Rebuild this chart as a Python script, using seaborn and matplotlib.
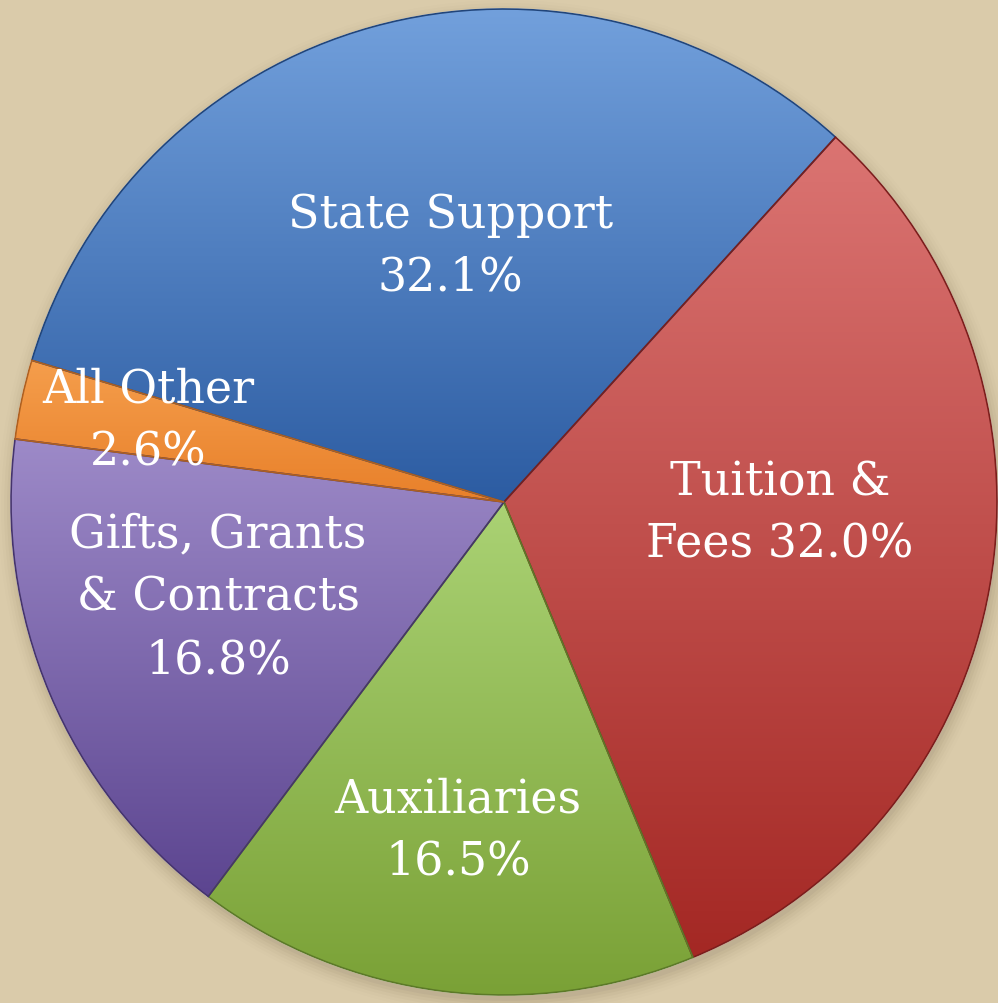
import matplotlib.pyplot as plt
import matplotlib.colors as mcolors
from matplotlib.patches import PathPatch
import numpy as np
import seaborn as sns

# revenue sources, clockwise from the All Other / State Support boundary
categories = ["State Support", "Tuition &\nFees", "Auxiliaries",
              "Gifts, Grants\n& Contracts", "All Other"]
shares = [32.1, 32.0, 16.5, 16.8, 2.6]
label_joins = ["\n", " ", "\n", "\n", "\n"]
top_colors = ["#72a0dc", "#db7472", "#aad274", "#9d8ac8", "#f59e4c"]
bottom_colors = ["#2c5ca2", "#a42824", "#7aa136", "#5c4590", "#e8802a"]
label_pos = [(-0.108, 0.520), (0.560, -0.022), (-0.093, -0.665),
             (-0.580, -0.193), (-0.722, 0.166)]

sns.set_theme(style="white")
plt.rcParams['font.family'] = ['DejaVu Serif', 'DejaVu Sans']

bg = "#dacbaa"
fig = plt.figure(figsize=(9.98, 10.04), dpi=100, facecolor=bg)
ax = fig.add_axes([0, 0, 1, 1])
ax.set_facecolor(bg)

# soft drop shadow under the pie
for i, a in enumerate(np.linspace(0.05, 0.01, 6)):
    ax.add_patch(plt.Circle((0.004, -0.012), 1.0 + 0.006 * i, color="#5a4a30",
                            alpha=a, lw=0, zorder=0))

wedges, _ = ax.pie(shares, startangle=163.3, counterclock=False,
                   radius=1.0, center=(0, 0),
                   colors=top_colors,
                   wedgeprops=dict(linewidth=1.2, zorder=1))

for w, c1, c2 in zip(wedges, top_colors, bottom_colors):
    ec = mcolors.to_hex(np.array(mcolors.to_rgb(c2)) * 0.75)
    path = w.get_path()
    ext = path.get_extents()
    cmap = mcolors.LinearSegmentedColormap.from_list("g", [c2, c1])
    grad = np.linspace(0, 1, 256).reshape(-1, 1)
    im = ax.imshow(grad, cmap=cmap, extent=(ext.x0, ext.x1, ext.y0, ext.y1),
                   origin="lower", aspect="auto", zorder=1.5,
                   interpolation="bilinear")
    im.set_clip_path(w)
    # outline on top of the gradient
    ax.add_patch(PathPatch(path, fill=False, edgecolor=ec, lw=1.2, zorder=2))

for cat, val, join, (x, y) in zip(categories, shares, label_joins, label_pos):
    ax.text(x, y, f"{cat}{join}{val:.1f}%", ha="center", va="center",
            color="white", fontsize=33, linespacing=1.5, zorder=3)

cx, cy, r = 504, 503, 493
ax.set_xlim(-cx / r, (998 - cx) / r)
ax.set_ylim(-(1004 - cy) / r, cy / r)
ax.set_aspect("auto")
ax.axis("off")

fig.savefig("out.png", dpi=100, facecolor=bg)
